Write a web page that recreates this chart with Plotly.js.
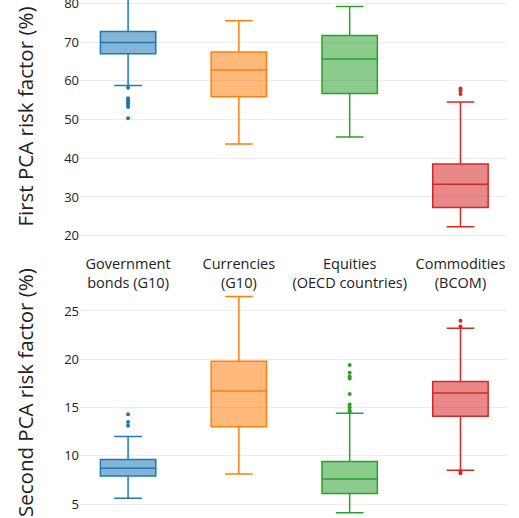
<!DOCTYPE html>
<html><head><meta charset="utf-8">
<script src="https://cdn.plot.ly/plotly-3.0.1.min.js"></script>
<style>html,body{margin:0;padding:0;background:#fff}#c{width:519px;height:518px}</style>
</head><body><div id="c"></div>
<script>
const categories = ['Government<br>bonds (G10)', 'Currencies<br>(G10)', 'Equities<br>(OECD countries)', 'Commodities<br>(BCOM)'];
const colors = ['#1f77b4', '#ff7f0e', '#2ca02c', '#d62728'];
const titles = ['First PCA risk factor (%)', 'Second PCA risk factor (%)'];

// First PCA risk factor (%)
const pc1_lower  = [58.8, 43.7, 45.5, 22.3];
const pc1_q1     = [67.0, 55.9, 56.7, 27.3];
const pc1_median = [69.9, 62.8, 65.6, 33.3];
const pc1_q3     = [72.7, 67.4, 71.7, 38.5];
const pc1_upper  = [85.0, 75.5, 79.2, 54.5];
const pc1_outliers = [
  [58.2, 55.5, 55.1, 54.7, 54.2, 53.6, 53.2, 50.3],
  [],
  [],
  [58.0, 57.4, 56.6]
];

// Second PCA risk factor (%)
const pc2_lower  = [5.6, 8.1, 4.1, 8.5];
const pc2_q1     = [7.9, 13.0, 6.1, 14.1];
const pc2_median = [8.7, 16.7, 7.6, 16.5];
const pc2_q3     = [9.6, 19.8, 9.4, 17.7];
const pc2_upper  = [12.0, 26.5, 14.4, 23.2];
const pc2_outliers = [
  [14.3, 13.5, 13.1],
  [],
  [19.4, 18.6, 18.2, 18.0, 16.4, 15.3, 15.0, 14.7, 14.5],
  [24.0, 23.4, 8.4, 8.2]
];

function rgba(hex, a) {
  const r = parseInt(hex.slice(1,3),16), g = parseInt(hex.slice(3,5),16), b = parseInt(hex.slice(5,7),16);
  return `rgba(${r},${g},${b},${a})`;
}

const traces = [];
function addSet(lower, q1, med, q3, upper, outl, xa, ya) {
  categories.forEach((c, i) => {
    traces.push({
      type: 'box', x: [c], xaxis: xa, yaxis: ya,
      lowerfence: [lower[i]], q1: [q1[i]], median: [med[i]], q3: [q3[i]], upperfence: [upper[i]],
      width: 0.5, whiskerwidth: 0.5,
      line: {color: colors[i], width: 1.5},
      fillcolor: rgba(colors[i], 0.55),
      boxpoints: false, hoverinfo: 'skip', showlegend: false
    });
    if (outl[i].length) {
      traces.push({
        type: 'scatter', mode: 'markers', xaxis: xa, yaxis: ya,
        x: outl[i].map(() => c), y: outl[i],
        marker: {color: colors[i], size: 4},
        showlegend: false, hoverinfo: 'skip'
      });
    }
  });
}
addSet(pc1_lower, pc1_q1, pc1_median, pc1_q3, pc1_upper, pc1_outliers, 'x', 'y');
addSet(pc2_lower, pc2_q1, pc2_median, pc2_q3, pc2_upper, pc2_outliers, 'x2', 'y2');

const fontFam = '"Open Sans", "Noto Sans", sans-serif';
const layout = {
  width: 519, height: 518,
  margin: {l: 80, r: 12, t: 0, b: 0},
  paper_bgcolor: '#fff', plot_bgcolor: '#fff',
  font: {family: fontFam, color: '#222', size: 13},
  showlegend: false,
  xaxis: {
    domain: [0, 1], anchor: 'y', type: 'category', categoryarray: categories,
    range: [-0.434, 3.42], showgrid: false, zeroline: false, showline: false,
    ticks: '', showticklabels: true, tickfont: {size: 14.5, color: '#222'}, ticklabelstandoff: 10
  },
  yaxis: {
    domain: [0.530, 1], anchor: 'x', range: [18, 80.85],
    tickvals: [20, 30, 40, 50, 60, 70, 80], ticklabeloverflow: 'allow',
    showgrid: true, gridcolor: '#ececec', zeroline: false, showline: false, ticks: '',
    tickfont: {size: 13, color: '#222'}
  },
  xaxis2: {
    domain: [0, 1], anchor: 'y2', type: 'category', categoryarray: categories,
    range: [-0.434, 3.42], showgrid: false, zeroline: false, showline: false,
    ticks: '', showticklabels: false
  },
  yaxis2: {
    domain: [0, 0.4369], anchor: 'x2', range: [3.55, 27],
    tickvals: [5, 10, 15, 20, 25], ticklabeloverflow: 'allow',
    showgrid: true, gridcolor: '#ececec', zeroline: false, showline: false, ticks: '',
    tickfont: {size: 13, color: '#222'}
  },
  annotations: [
    {text: titles[0], xref: 'paper', yref: 'paper', x: -0.1288, y: 0.775,
     xanchor: 'center', yanchor: 'middle', textangle: -90, showarrow: false,
     font: {size: 20.5, color: '#222'}},
    {text: titles[1], xref: 'paper', yref: 'paper', x: -0.1288, y: 0.2413,
     xanchor: 'center', yanchor: 'middle', textangle: -90, showarrow: false,
     font: {size: 20.5, color: '#222'}}
  ]
};
Plotly.newPlot('c', traces, layout, {displayModeBar: false, staticPlot: true});
</script>
</body></html>
